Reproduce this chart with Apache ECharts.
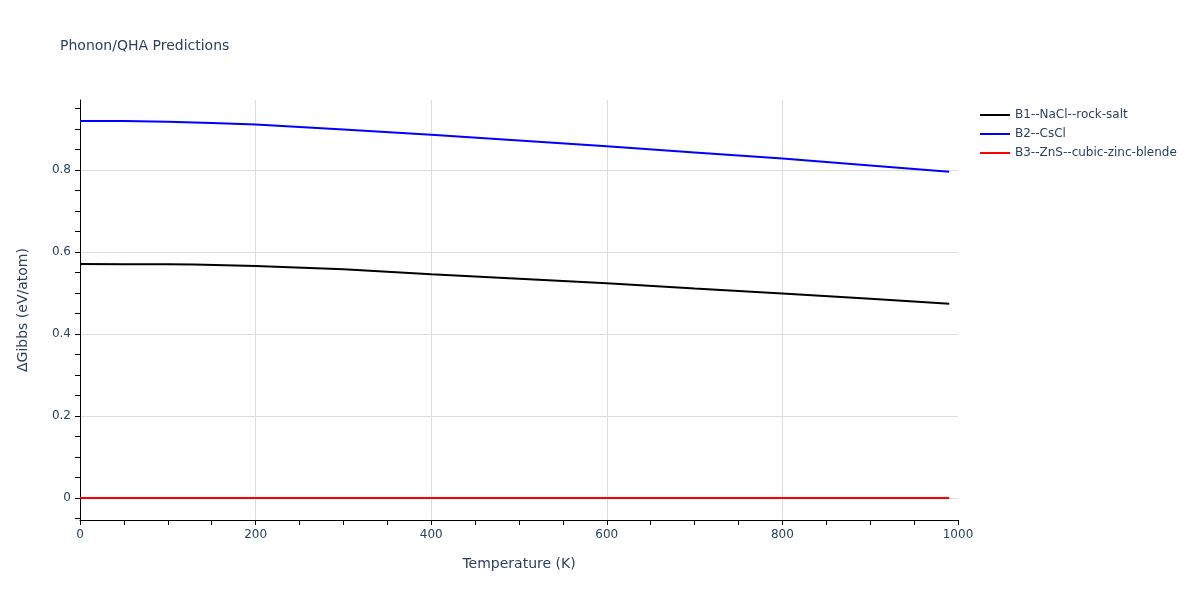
<!DOCTYPE html>
<html>
<head>
<meta charset="utf-8">
<script src="https://cdn.jsdelivr.net/npm/echarts@6/dist/echarts.min.js"></script>
<style>html,body{margin:0;padding:0;background:#fff}#c{width:1200px;height:600px}</style>
</head>
<body>
<div id="c"></div>
<script>
// Data
const seriesNames = ['B1--NaCl--rock-salt', 'B2--CsCl', 'B3--ZnS--cubic-zinc-blende'];
const b1Temps = [0, 50, 100, 130, 200, 300, 400, 500, 600, 700, 800, 900, 990];
const b1Values = [0.571, 0.5705, 0.570, 0.5695, 0.566, 0.558, 0.546, 0.535, 0.524, 0.511, 0.499, 0.486, 0.474];
const b2Temps = [0, 50, 100, 150, 200, 300, 400, 500, 600, 700, 800, 900, 990];
const b2Values = [0.920, 0.9195, 0.918, 0.915, 0.911, 0.899, 0.886, 0.872, 0.858, 0.843, 0.828, 0.811, 0.796];
const b3Temps = [0, 990];
const b3Values = [0, 0];
const yLabelValues = [0, 0.2, 0.4, 0.6, 0.8];
const yTickValues = [-0.05, 0, 0.05, 0.1, 0.15, 0.2, 0.25, 0.3, 0.35, 0.4, 0.45, 0.5, 0.55, 0.6, 0.65, 0.7, 0.75, 0.8, 0.85, 0.9, 0.95];

const pair = (xs, ys) => xs.map((x, i) => [x, ys[i]]);
const FONT = '"DejaVu Sans", Verdana, sans-serif';
const TXT = '#2a3f5f';
const GRID = '#dddddd';
const yMin = -0.0537, yMax = 0.971;

const chart = echarts.init(document.getElementById('c'), null, {renderer: 'canvas'});
chart.setOption({
  backgroundColor: '#fff',
  animation: false,
  title: {
    text: 'Phonon/QHA Predictions',
    left: 55, top: 34,
    textStyle: {fontFamily: FONT, fontSize: 14, fontWeight: 'normal', color: TXT}
  },
  legend: {
    orient: 'vertical', left: 975, top: 104,
    itemWidth: 30, itemHeight: 14, itemGap: 7,
    textStyle: {fontFamily: FONT, fontSize: 12, color: TXT},
    data: seriesNames.map(n => ({name: n, icon: 'path://M0,0L30,0L30,2L0,2Z'}))
  },
  grid: {left: 80, right: 242, top: 100, bottom: 80, containLabel: false},
  xAxis: {
    type: 'value', min: 0, max: 1000, interval: 200,
    name: 'Temperature (K)', nameLocation: 'middle', nameGap: 37,
    nameTextStyle: {fontFamily: FONT, fontSize: 14, color: TXT},
    axisLine: {show: true, onZero: false, lineStyle: {color: '#000', width: 1}},
    axisTick: {show: true, inside: false, length: 5, lineStyle: {color: '#000'}},
    minorTick: {show: true, splitNumber: 4, length: 5, lineStyle: {color: '#000'}},
    axisLabel: {fontFamily: FONT, fontSize: 12, color: TXT, margin: 9, formatter: v => String(v)},
    splitLine: {show: true, showMinLine: false, showMaxLine: false, lineStyle: {color: GRID, width: 1}}
  },
  yAxis: [{
    type: 'value', min: yMin, max: yMax,
    name: 'ΔGibbs (eV/atom)', nameLocation: 'middle', nameGap: 50, nameRotate: 90,
    nameTextStyle: {fontFamily: FONT, fontSize: 14, color: TXT},
    axisLine: {show: true, onZero: false, lineStyle: {color: '#000', width: 1}},
    axisTick: {show: true, inside: false, length: 5, customValues: yTickValues, lineStyle: {color: '#000'}},
    axisLabel: {fontFamily: FONT, fontSize: 12, color: TXT, margin: 9, customValues: yLabelValues},
    splitLine: {show: false}
  }, {
    type: 'value', min: yMin, max: yMax, position: 'left',
    axisLine: {show: false}, axisTick: {show: false}, axisLabel: {show: false},
    splitLine: {show: true, showMinLine: false, showMaxLine: false, lineStyle: {color: GRID, width: 1}}
  }],
  series: [
    {name: seriesNames[0], type: 'line', data: pair(b1Temps, b1Values), symbol: 'none', showSymbol: false,
     lineStyle: {color: '#000000', width: 2}, itemStyle: {color: '#000000'}, z: 3},
    {name: seriesNames[1], type: 'line', data: pair(b2Temps, b2Values), symbol: 'none', showSymbol: false,
     lineStyle: {color: '#0000ff', width: 2}, itemStyle: {color: '#0000ff'}, z: 3},
    {name: seriesNames[2], type: 'line', data: pair(b3Temps, b3Values), symbol: 'none', showSymbol: false,
     lineStyle: {color: '#ff0000', width: 2}, itemStyle: {color: '#ff0000'}, z: 3}
  ]
});
</script>
</body>
</html>
